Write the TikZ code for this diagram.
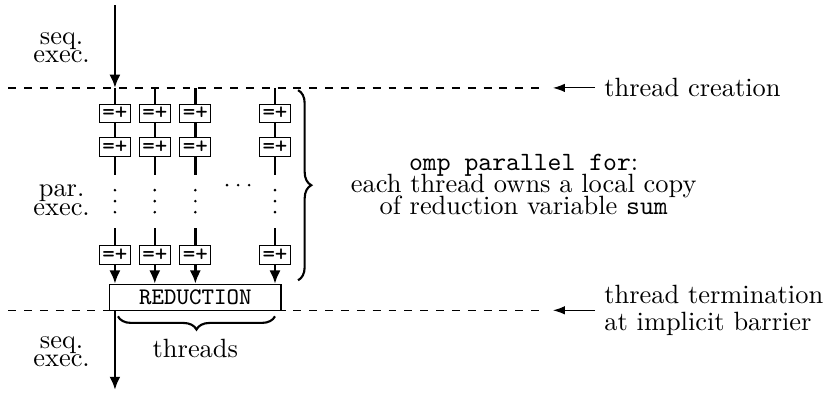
\documentclass[tikz,border=0pt]{standalone}
\usepackage{amsmath}
\usepackage{tikz}
\usetikzlibrary{arrows.meta}
\usetikzlibrary{decorations.pathreplacing}
\tikzset{
	addbox/.style={draw, thin, fill=white, inner sep=0pt, minimum width=.41cm, minimum height=.25cm, font=\small\ttfamily},
	redbox/.style={draw, thin, fill=white, inner sep=0pt, minimum width=2.28cm, minimum height=.345cm, font=\small\ttfamily},
	flow/.style={line width=1.1pt},
	thr/.style={line width=.9pt},
	barrier/.style={dashed, semithick},
	tip/.style={-{Latex[length=5pt,width=4.2pt]}},
	note/.style={thin, -{Latex[length=4.5pt,width=3.2pt]}},
	lbl/.style={align=center},
	brc/.style={decorate, decoration={brace,amplitude=5pt}, thick},
}

\begin{document}
\begin{tikzpicture}
		\useasboundingbox (0,0) rectangle (11.02,5.22);
		% fork and join lines
		\draw[barrier] (.11,4.05) -- (7.26,4.05);
		\draw[barrier] (.11,1.09) -- (7.26,1.09);
		\node[anchor=west] (crt) at (7.92,4.05) {thread creation};
		\node[anchor=west, align=left] (trm) at (7.92,1.09) {thread termination\\[-2pt]at implicit barrier};
		\draw[note] (crt.west) -- (7.36,4.05);
		\draw[note] (trm.west) -- (7.36,1.09);
		% threads
		\node[redbox] (red) at (2.60,1.265) {REDUCTION};
		\foreach \x\n in {1.53/1,2.06/2,2.60/3,3.66/4} {
			\coordinate (t\n) at (\x,4.05);
			\node[addbox] (a\n) at (\x,3.71) {=+};
			\node[addbox] (b\n) at (\x,3.26) {=+};
			\node[addbox] (c\n) at (\x,1.83) {=+};
			\coordinate (e\n) at (\x,2.89);
			\coordinate (f\n) at (\x,2.18);
			\draw[thr] (t\n) -- (a\n) (a\n) -- (b\n) (b\n) -- (e\n) (f\n) -- (c\n);
			\draw[thr, tip] (c\n) -- (c\n |- red.north);
			\foreach \y in {2.689,2.543,2.396}
			\fill (\x,\y) circle (.55pt);
		}
		\foreach \x in {3.022,3.169,3.316}
		\fill (\x,2.756) circle (.55pt);
		% sequential part
		\coordinate (src) at (1.53,5.15);
		\coordinate (dst) at (1.53,.03);
		\draw[flow, tip] (src) -- (t1);
		\draw[flow, tip] (red.south -| t1) -- (dst);
		\node[lbl] (seqa) at (.82,4.586) {seq.\\[-5pt]exec.};
		\node[lbl] (par) at (.82,2.556) {par.\\[-5pt]exec.};
		\node[lbl] (seqb) at (.82,.539) {seq.\\[-5pt]exec.};
		% braces
		\draw[brc] (3.967,4.02) -- (3.967,1.49);
		\draw[brc] (3.66,1.01) -- (1.57,1.01);
		\node (thrs) at (2.60,.586) {threads};
		\node[lbl] (omp) at (6.97,2.77) {\texttt{omp parallel for}:\\[-3.7pt]each thread owns a local copy\\[-3.7pt]of reduction variable \texttt{sum}};
\end{tikzpicture}
\end{document}
